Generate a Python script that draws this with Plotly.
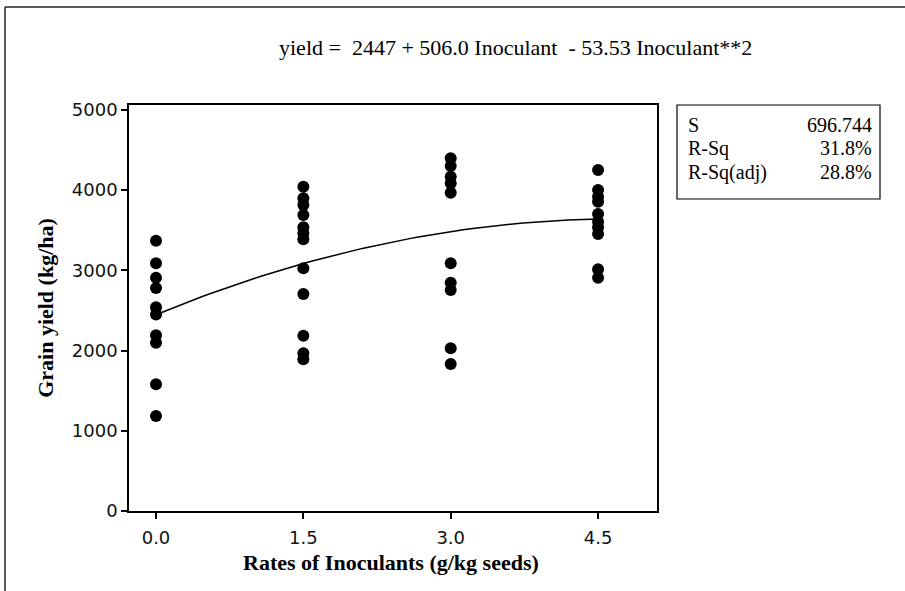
import numpy as np
import plotly.graph_objects as go

# ---- data ----
rate_00 = [3370, 3088, 2909, 2781, 2540, 2450, 2191, 2099, 1580, 1185]
rate_15 = [4044, 3899, 3815, 3691, 3537, 3463, 3388, 3026, 2706, 2186, 1966, 1891]
rate_30 = [4398, 4302, 4168, 4086, 3969, 3088, 2847, 2756, 2029, 1833]
rate_45 = [4252, 4002, 3919, 3857, 3703, 3607, 3537, 3454, 3014, 2909]
rates = [0.0, 1.5, 3.0, 4.5]
tick_labels = ["0.0", "1.5", "3.0", "4.5"]
y_ticks = [0, 1000, 2000, 3000, 4000, 5000]

# fitted quadratic coefficients shown in the chart
coef_b0, coef_b1, coef_b2 = 2447.0, 506.0, -53.53
stats_labels = ["S", "R-Sq", "R-Sq(adj)"]
stats_values = ["696.744", "31.8%", "28.8%"]

xs, ys = [], []
for r, vals in zip(rates, [rate_00, rate_15, rate_30, rate_45]):
    xs += [r] * len(vals)
    ys += vals

fit_x = np.linspace(0, 4.5, 60)
fit_y = coef_b0 + coef_b1 * fit_x + coef_b2 * fit_x ** 2

# ---- layout geometry (pixels) ----
W, H = 905, 591
L, R, T, B = 129, 657, 105, 511
pw, ph = R - L, B - T

def px(x):
    return (x - L) / pw

def py(y):
    return (B - y) / ph

fig = go.Figure()
fig.add_trace(go.Scatter(x=fit_x, y=fit_y, mode="lines",
                         line=dict(color="black", width=1.5),
                         showlegend=False, hoverinfo="skip"))
fig.add_trace(go.Scatter(x=xs, y=ys, mode="markers",
                         marker=dict(color="black", size=12),
                         showlegend=False))

tick_font = dict(family="DejaVu Sans", size=18, color="#111111")
title_font = dict(family="Liberation Serif", size=22, color="black")

fig.update_xaxes(range=[-0.275, 5.1], tickvals=rates, ticktext=tick_labels,
                 showline=True, linecolor="black", linewidth=1.5, mirror=True,
                 ticks="outside", ticklen=6, tickcolor="black", tickwidth=1.5,
                 ticklabelstandoff=4,
                 showgrid=False, zeroline=False, tickfont=tick_font)
fig.update_yaxes(range=[0, 5062], tickvals=y_ticks,
                 showline=True, linecolor="black", linewidth=1.5, mirror=True,
                 ticks="outside", ticklen=6, tickcolor="black", tickwidth=1.5,
                 showgrid=False, zeroline=False, tickfont=tick_font,
                 title=dict(text="<b>Grain yield (kg/ha)</b>",
                            font=title_font, standoff=12))

shapes = [
    # outer frame (left and top)
    dict(type="line", xref="paper", yref="paper", x0=px(5), x1=px(5), y0=py(7), y1=py(H + 5),
         line=dict(color="#222222", width=1.5)),
    dict(type="line", xref="paper", yref="paper", x0=px(5), x1=px(W + 5), y0=py(7), y1=py(7),
         line=dict(color="#222222", width=1.5)),
    # stats box
    dict(type="rect", xref="paper", yref="paper", x0=px(677), x1=px(880), y0=py(199), y1=py(105),
         line=dict(color="black", width=1.2), fillcolor="white"),
]

annotations = [
    dict(text="yield =  2447 + 506.0 Inoculant  - 53.53 Inoculant**2", xref="paper", yref="paper",
         x=px(515), y=py(48), showarrow=False, xanchor="center", yanchor="middle",
         font=dict(family="Liberation Serif", size=22, color="black")),
    dict(text="<b>Rates of Inoculants (g/kg seeds)</b>", xref="paper", yref="paper",
         x=px(391), y=py(562), showarrow=False, xanchor="center", yanchor="middle",
         font=title_font),
]
row_y = [125, 148, 172]
for lab, val, yy in zip(stats_labels, stats_values, row_y):
    annotations.append(dict(text=lab, xref="paper", yref="paper", x=px(686), y=py(yy),
                            showarrow=False, xanchor="left", yanchor="middle",
                            font=dict(family="Liberation Serif", size=20, color="black")))
    annotations.append(dict(text=val, xref="paper", yref="paper", x=px(874), y=py(yy),
                            showarrow=False, xanchor="right", yanchor="middle",
                            font=dict(family="Liberation Serif", size=20, color="black")))

fig.update_layout(width=W, height=H, margin=dict(l=L, r=W - R, t=T, b=H - B),
                  plot_bgcolor="white", paper_bgcolor="white",
                  shapes=shapes, annotations=annotations, showlegend=False)

fig.write_html("out.html")
